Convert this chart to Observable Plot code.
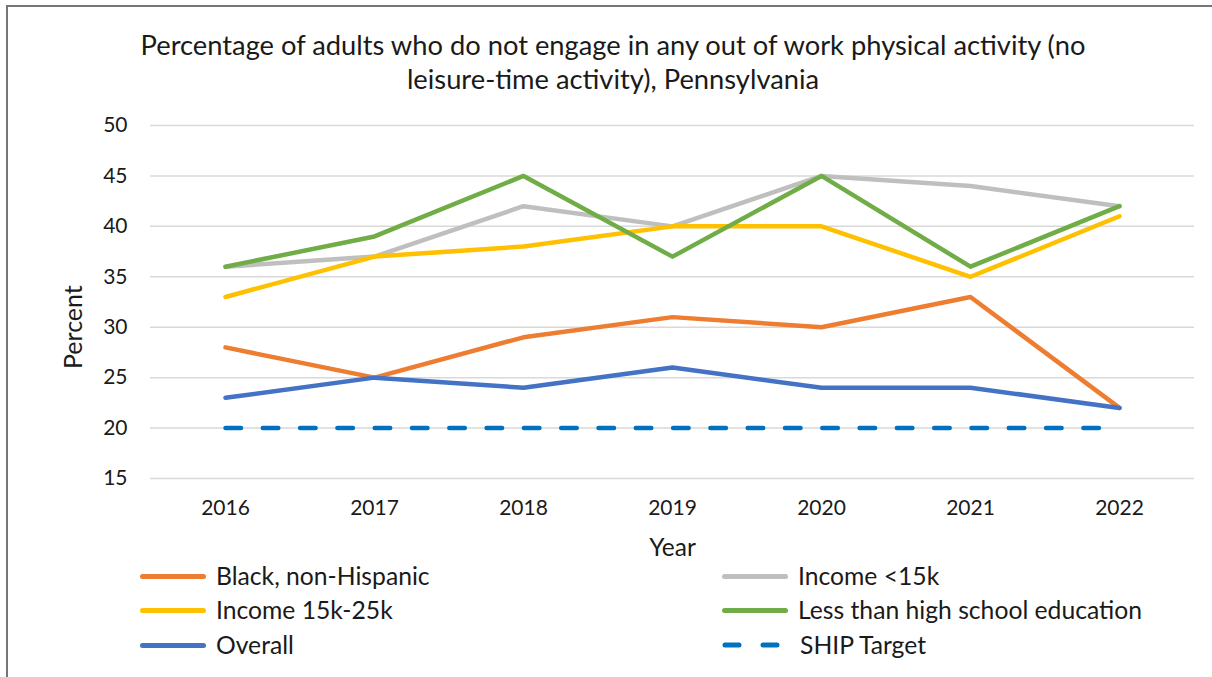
<!DOCTYPE html>
<html>
<head>
<meta charset="utf-8">
<script src="https://cdn.jsdelivr.net/npm/d3@7"></script>
<script src="https://cdn.jsdelivr.net/npm/@observablehq/plot@0.6"></script>
<style>
  html, body { margin: 0; padding: 0; background: #fff; }
  body { width: 1212px; height: 677px; position: relative; overflow: hidden; font-family: Lato, "Open Sans", sans-serif; color: #000; }
  #frame { position: absolute; left: 6px; top: 5px; right: -4px; bottom: -4px; border-left: 2px solid #767676; border-top: 2px solid #767676; }
  #title { position: absolute; top: 28px; left: 7px; width: 1212px; text-align: center; font-size: 27.3px; line-height: 34px; color: #1a1a1a; }
  #chart { position: absolute; top: 100px; left: 0; }
  .leg { position: absolute; font-size: 24.7px; line-height: 26px; display: flex; align-items: center; color: #1a1a1a; }
  .sw { display: inline-block; width: 66px; height: 5px; border-radius: 3px; margin-right: 10px; }
</style>
</head>
<body>
<div id="frame"></div>
<div id="title">Percentage of adults who do not engage in any out of work physical activity (no<br>leisure-time activity), Pennsylvania</div>
<div id="chart"></div>
<div id="legend"></div>
<script>
const years = ["2016", "2017", "2018", "2019", "2020", "2021", "2022"];
const blackNonHispanic = [28, 25, 29, 31, 30, 33, 22];
const incomeUnder15k = [36, 37, 42, 40, 45, 44, 42];
const income15to25k = [33, 37, 38, 40, 40, 35, 41];
const lessThanHighSchool = [36, 39, 45, 37, 45, 36, 42];
const overall = [23, 25, 24, 26, 24, 24, 22];
const shipTarget = [20, 20, 20, 20, 20, 20, 20];
const yTicks = [15, 20, 25, 30, 35, 40, 45, 50];

const seriesNames = ["Black, non-Hispanic", "Income <15k", "Income 15k-25k", "Less than high school education", "Overall", "SHIP Target"];
const seriesValues = [blackNonHispanic, incomeUnder15k, income15to25k, lessThanHighSchool, overall, shipTarget];
const seriesColors = ["#ED7D31", "#BFBFBF", "#FFC000", "#70AD47", "#4472C4", "#0070C0"];

const rows = seriesNames.flatMap((name, i) => years.map((year, j) => ({series: name, year, value: seriesValues[i][j]})));

const lineMarks = seriesNames.map((name, i) => Plot.line(rows.filter(d => d.series === name), {
  x: "year", y: "value",
  stroke: seriesColors[i], strokeWidth: 4.5,
  strokeLinecap: "round", strokeLinejoin: "round",
  strokeDasharray: name === "SHIP Target" ? "15.5,21.8" : null
}));

const chart = Plot.plot({
  width: 1212, height: 460,
  marginLeft: 150, marginRight: 18, marginTop: 25, marginBottom: 82,
  style: {fontFamily: "Lato, 'Open Sans', sans-serif", fontSize: "21px", color: "#000", background: "transparent"},
  x: {type: "point", domain: years, padding: 0.5},
  y: {domain: [15, 50]},
  marks: [
    Plot.gridY(yTicks, {stroke: "#D9D9D9", strokeOpacity: 1, strokeWidth: 1.5}),
    Plot.axisY(yTicks, {tickSize: 0, tickPadding: 23, label: null, fontSize: 21, fill: "#1a1a1a"}),
    Plot.axisX(years, {tickSize: 0, tickPadding: 22, label: null, fontSize: 21, fill: "#1a1a1a"}),
    Plot.text(["Year"], {frameAnchor: "bottom", dy: 77, fontSize: 24.5, fill: "#1a1a1a"}),
    Plot.text(["Percent"], {frameAnchor: "left", dx: -77, dy: 67, rotate: -90, fontSize: 25, fill: "#1a1a1a"}),
    ...lineMarks
  ]
});
document.getElementById("chart").appendChild(chart);

// legend
const legend = document.getElementById("legend");
const legPos = [[140, 576], [722, 576], [140, 610], [722, 610], [140, 645], [722, 645]];
seriesNames.forEach((name, i) => {
  const item = document.createElement("div");
  item.className = "leg";
  item.style.left = legPos[i][0] + "px";
  item.style.top = (legPos[i][1] - 13) + "px";
  let sw;
  if (name === "SHIP Target") {
    sw = document.createElementNS("http://www.w3.org/2000/svg", "svg");
    sw.setAttribute("width", 68); sw.setAttribute("height", 8);
    sw.style.marginRight = "10px";
    const ln = document.createElementNS("http://www.w3.org/2000/svg", "line");
    ln.setAttribute("x1", 3); ln.setAttribute("x2", 66); ln.setAttribute("y1", 4); ln.setAttribute("y2", 4);
    ln.setAttribute("stroke", seriesColors[i]); ln.setAttribute("stroke-width", 5);
    ln.setAttribute("stroke-linecap", "round"); ln.setAttribute("stroke-dasharray", "14,24");
    sw.appendChild(ln);
  } else {
    sw = document.createElement("span");
    sw.className = "sw";
    sw.style.background = seriesColors[i];
  }
  item.appendChild(sw);
  const t = document.createElement("span");
  t.textContent = name;
  item.appendChild(t);
  legend.appendChild(item);
});
</script>
</body>
</html>
